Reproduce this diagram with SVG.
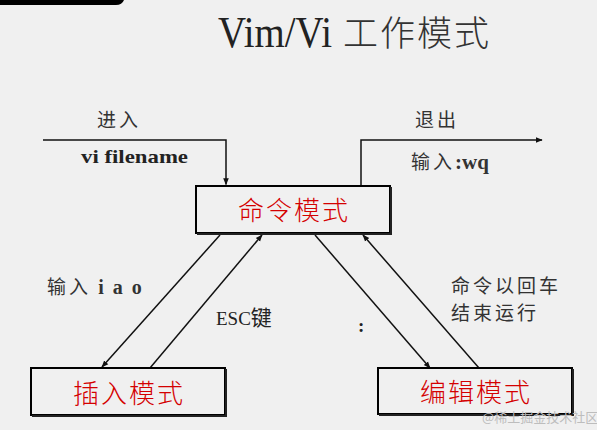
<svg xmlns="http://www.w3.org/2000/svg" width="597" height="430" viewBox="0 0 597 430">
<style>
.box{fill:#f0f0f0;stroke:#000;stroke-width:2}
.shadow{fill:none;stroke:#222;stroke-width:2}
.mode{font-family:"Noto Sans CJK SC","Liberation Serif",serif;font-size:26px;font-weight:300;fill:#d40000;text-anchor:middle;letter-spacing:2px}
.lbl{font-family:"Liberation Serif","Noto Sans CJK SC",serif;font-size:19px;fill:#222}
.cjk{font-family:"Noto Sans CJK SC",sans-serif;font-size:19px;fill:#333;letter-spacing:3px}
.b{font-weight:bold}
.line{fill:none;stroke:#111;stroke-width:1.5}
</style>
<defs>
<marker id="ah" viewBox="0 0 10 10" refX="9" refY="5" markerWidth="7" markerHeight="7" orient="auto" markerUnits="userSpaceOnUse">
<path d="M0,1 L10,5 L0,9 z" fill="#111"/>
</marker>
</defs>
<rect x="0" y="0" width="597" height="430" fill="#f0f0f0"/>
<path d="M0,0 H124 Q122,5 116,5 H0 z" fill="#000"/>
<text x="218" y="47" font-family="Liberation Serif,serif" font-size="45" fill="#222" textLength="114" lengthAdjust="spacingAndGlyphs">Vim/Vi</text>
<text x="343" y="46" font-family="Noto Sans CJK SC,sans-serif" font-size="35" font-weight="300" fill="#333" letter-spacing="2">工作模式</text>

<g id="connectors">
<path class="line" d="M43,140 H226 V184.5" marker-end="url(#ah)"/>
<path class="line" d="M361,186 V140 H542" marker-end="url(#ah)"/>
<path class="line" d="M220,235 L102,367" marker-end="url(#ah)"/>
<path class="line" d="M150,368 L262,235" marker-end="url(#ah)"/>
<path class="line" d="M315,235 L430,368" marker-end="url(#ah)"/>
<path class="line" d="M479,368 L363,235" marker-end="url(#ah)"/>
</g>

<g id="labels">
<text class="cjk" x="97" y="127">进入</text>
<text class="lbl b" x="81" y="163" font-size="21" textLength="107" lengthAdjust="spacingAndGlyphs">vi filename</text>
<text class="cjk" x="415" y="127">退出</text>
<text class="cjk" x="411" y="169" letter-spacing="1">输入<tspan class="b" font-family="Liberation Serif,serif" font-size="21" letter-spacing="0">:wq</tspan></text>
<text class="cjk" x="47" y="294" letter-spacing="1">输入 <tspan class="b" font-family="Liberation Serif,serif" font-size="20" letter-spacing="2">i a o</tspan></text>
<text class="lbl" x="216" y="325" font-size="21">ESC<tspan font-family="Noto Sans CJK SC,sans-serif" font-size="21">键</tspan></text>
<text class="lbl b" x="358" y="332" font-size="20">:</text>
<text class="cjk" x="451" y="293">命令以回车</text>
<text class="cjk" x="451" y="320">结束运行</text>
</g>

<g id="command">
<rect class="box" x="196" y="186" width="194" height="47"/>
<path class="shadow" d="M391,187 V234 H197"/>
<text class="mode" x="294" y="220">命令模式</text>
</g>
<g id="insert">
<rect class="box" x="31" y="368" width="194" height="47"/>
<path class="shadow" d="M226,369 V416 H32"/>
<text class="mode" x="129" y="403">插入模式</text>
</g>
<g id="edit">
<rect class="box" x="378" y="368" width="194" height="46"/>
<path class="shadow" d="M573,369 V415 H379"/>
<text class="mode" x="476" y="402">编辑模式</text>
</g>
<text x="482" y="422" font-family="Noto Sans CJK SC,sans-serif" font-size="13" fill="#bdbdbd">@稀土掘金技术社区</text>
</svg>
